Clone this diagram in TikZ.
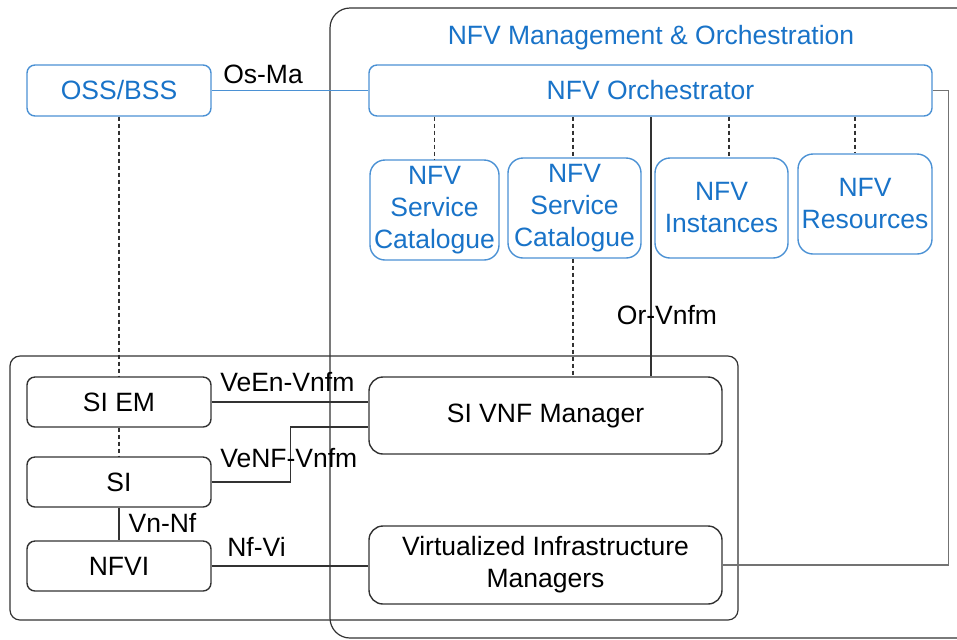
\documentclass[tikz,border=0pt]{standalone}
\usepackage{fontspec}
\setmainfont{Liberation Sans}
\usetikzlibrary{positioning, calc}

\definecolor{manoblue}{RGB}{25,115,200}
\definecolor{manoedge}{RGB}{75,145,212}
\definecolor{darkline}{RGB}{50,50,50}
\definecolor{greyline}{RGB}{115,115,115}

\begin{document}
\begin{tikzpicture}[
    x=0.5pt, y=-0.5pt,
    every node/.style={font=\fontsize{13.25pt}{16pt}\selectfont},
    bluebox/.style={rectangle, rounded corners=4pt, draw=manoedge, line width=0.7pt, text=manoblue, inner sep=0pt, align=center},
    catbox/.style={bluebox, rounded corners=7.5pt, minimum width=65pt, minimum height=50pt},
    sibox/.style={rectangle, rounded corners=4pt, draw=darkline, line width=0.7pt, inner sep=0pt, align=center, minimum width=92pt, minimum height=25pt},
    mgrbox/.style={sibox, rounded corners=7pt, minimum width=176.5pt, minimum height=38.5pt},
    link/.style={draw=darkline, line width=0.6pt},
    dashlink/.style={link, dash pattern=on 2pt off 1.5pt},
    iflabel/.style={inner sep=0pt, text=black}
]

    \useasboundingbox (0,0) rectangle (957,639);

    % Frames
    \draw[darkline, line width=0.6pt, rounded corners=10pt] (330,8) rectangle (985,638);
    \draw[darkline, line width=0.6pt, rounded corners=5pt] (10,356) rectangle (738,620);

    \node[text=manoblue] (manotitle) at (651,37.5) {NFV Management \& Orchestration};

    % --- Management & Orchestration ---
    \node[bluebox, minimum width=92pt, minimum height=25.5pt] (oss) at (119,90.5) {OSS/BSS};
    \node[bluebox, minimum width=281.5pt, minimum height=25.5pt] (orch) at (650.5,90.5) {NFV Orchestrator};

    \node[catbox, minimum width=64.5pt] (cat1) at (434.5,210) {NFV\\Service\\Catalogue};
    \node[catbox, minimum width=66.5pt] (cat2) at (574.5,208) {NFV\\Service\\Catalogue};
    \node[catbox, minimum width=66.5pt] (inst) at (721.5,208) {NFV\\Instances};
    \node[catbox, minimum width=67pt] (res) at (865,204) {NFV\\Resources};

    % --- SI domain ---
    \node[sibox] (siem) at (119,402) {SI EM};
    \node[sibox] (si) at (119,482) {SI};
    \node[sibox] (nfvi) at (119,566) {NFVI};

    \node[mgrbox] (vnfm) at (545.5,415.5) {SI VNF Manager};
    \node[mgrbox, minimum height=39pt] (vim) at (545.5,565) {Virtualized Infrastructure\\Managers};

    % Reference points
    \coordinate (orv) at ([xshift=52.75pt]vnfm.north);
    \coordinate (vnfmin) at ([yshift=-5.75pt]vnfm.west);

    % --- Interfaces ---

    % Os-Ma
    \draw[manoedge, line width=0.6pt] (oss.east) -- (orch.west)
        node[at start, iflabel, anchor=base west, xshift=5.5pt, yshift=3.5pt] (osma) {Os-Ma};

    % Orchestrator to its catalogues
    \draw[dashlink] (orch.south -| cat1.north) -- (cat1.north);
    \draw[dashlink] ([xshift=-0.75pt]cat2.north |- orch.south) -- ([xshift=-0.75pt]cat2.north);
    \draw[dashlink] ([xshift=3.75pt]inst.north |- orch.south) -- ([xshift=3.75pt]inst.north);
    \draw[dashlink] ([xshift=-5pt]res.north |- orch.south) -- ([xshift=-5pt]res.north);

    % Or-Vnfm
    \draw[link] (orv) -- (orv |- orch.south)
        node[at start, iflabel, anchor=base, xshift=8pt, yshift=26pt] (orvnfm) {Or-Vnfm};
    \draw[dashlink] ([xshift=-0.75pt]cat2.south) -- ([xshift=-0.75pt]cat2.south |- vnfm.north);

    % Or-Vi
    \draw[greyline, line width=0.6pt] (orch.east) -- ++(16,0) |- (vim.east);

    % OSS/BSS down to the SI
    \draw[dashlink] (oss.south) -- (siem.north);
    \draw[dashlink] (siem.south) -- (si.north);

    % Vn-Nf
    \draw[link] (si.south) -- (nfvi.north)
        node[at end, iflabel, anchor=base west, xshift=4.5pt, yshift=4pt] (vnnf) {Vn-Nf};

    % VeEn-Vnfm
    \draw[link] (siem.east) -- (siem.east -| vnfm.west)
        node[at start, iflabel, anchor=base west, xshift=4pt, yshift=5.5pt] (veen) {VeEn-Vnfm};

    % VeNF-Vnfm
    \draw[link] (si.east)
        node[iflabel, anchor=base west, xshift=4pt, yshift=7.5pt] (venf) {VeNF-Vnfm}
        -- ++(79,0) |- (vnfmin);

    % Nf-Vi
    \draw[link] (nfvi.east) -- (nfvi.east -| vim.west)
        node[at start, iflabel, anchor=base west, xshift=7.5pt, yshift=5pt] (nfvi-vi) {Nf-Vi};

\end{tikzpicture}
\end{document}
